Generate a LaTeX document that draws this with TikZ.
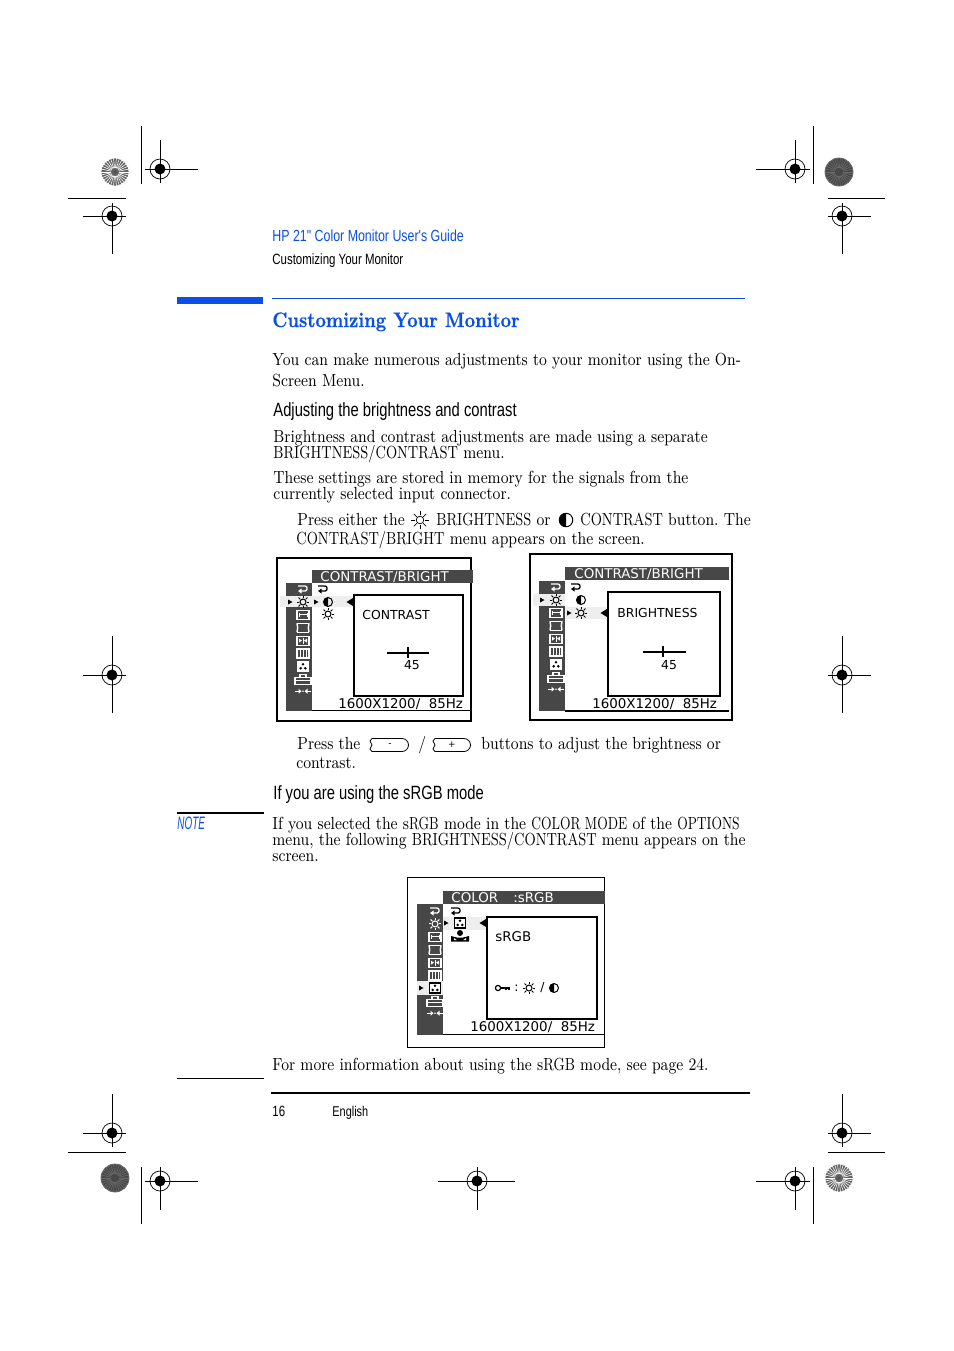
\documentclass[tikz,border=0pt]{standalone}
\usepackage{fontspec}
\usepackage{xcolor}
\setmainfont[FakeStretch=0.87]{Latin Modern Roman}
\newfontfamily\capface[FakeStretch=0.80]{Latin Modern Roman}
\newfontfamily\capnarrow[FakeStretch=0.75]{Latin Modern Roman}
\newfontfamily\titleface[Extension=.otf,FakeStretch=0.865,FakeBold=0.5]{lmroman10-bold}
\newfontfamily\headfont[FakeStretch=0.77]{Liberation Sans}
\newfontfamily\noteface[FakeStretch=0.55]{Liberation Sans}
\newfontfamily\osdfont{DejaVu Sans}
\newcommand{\capw}[1]{{\capface #1}}
\newcommand{\capn}[1]{{\capnarrow #1}}
\definecolor{hpblue}{HTML}{0B50E6}
\definecolor{osdgray}{HTML}{474747}
\definecolor{osdband}{HTML}{EEEEEE}
\usetikzlibrary{positioning}

\tikzset{
  bodytext/.style={anchor=base west,inner sep=0pt,font=\frenchspacing\fontsize{8.75}{10}\selectfont},
  headtext/.style={anchor=base west,inner sep=0pt,font=\headfont\fontsize{7.45}{10}\selectfont},
  subhead/.style={anchor=base west,inner sep=0pt,font=\headfont\fontsize{9.6}{12}\selectfont},
  osdtext/.style={anchor=base west,inner sep=0pt,font=\osdfont\fontsize{6.2}{7}\selectfont},
  osdwide/.style={osdtext,font=\osdfont\fontsize{6.7}{7}\selectfont},
  cropline/.style={line width=0.5pt},
  markline/.style={line width=0.5pt},
  sunicon/.pic={
    \draw[line width=0.5pt] (0,0) circle (3);
    \foreach \a in {0,45,...,315} \draw[line width=0.5pt] (\a:4) -- (\a:6.3);
  },
  sunthin/.pic={
    \draw[line width=0.35pt] (0,0) circle (3.8);
    \foreach \a in {0,45,...,315} \draw[line width=0.35pt] (\a:4.6) -- (\a:8.8);
  },
  backicon/.pic={
    \draw[line width=0.65pt,rounded corners=1pt] (-5,-3) -- (4,-3) -- (4,2) -- (-2,2);
    \fill (-5,2) -- (-1.5,-0.5) -- (-1.5,4.5) -- cycle;
  },
  halficon/.pic={
    \draw[line width=0.5pt] (0,0) circle (4.5);
    \fill (0,4.5) arc (90:270:4.5) -- cycle;
  },
  widthicon/.pic={
    \draw[line width=0.6pt] (-6,-4.5) rectangle (6,4.5);
    \draw[line width=0.5pt] (-4,0) -- (4,0) (-4,-2) -- (-4,2) (4,-2) -- (4,2);
  },
  recticon/.pic={
    \draw[line width=0.7pt] (-6,-4.5) -- (6,-4.5) (-6,4.5) -- (6,4.5);
    \draw[line width=0.7pt] (-6,-4.5) to[bend left=15] (-6,4.5) (6,-4.5) to[bend right=15] (6,4.5);
  },
  convicon/.pic={
    \draw[line width=0.6pt] (-6,-4.5) rectangle (6,4.5);
    \draw[line width=0.35pt] (0,-3) -- (0,3);
    \fill (-1,0) -- (-4,-2) -- (-4,2) -- cycle (1,0) -- (4,-2) -- (4,2) -- cycle;
  },
  barsicon/.pic={
    \draw[line width=0.6pt] (-6,-4.5) rectangle (6,4.5);
    \draw[line width=0.55pt] (-2.2,-4) -- (-2.2,4) (0.6,-4) -- (0.6,4) (3.2,-4) -- (3.2,4);
  },
  dotsicon/.pic={
    \draw[line width=0.6pt,fill=white] (-5.5,-5) rectangle (5.5,5);
    \fill[black] (-2.3,1.9) circle (1.4) (2.3,1.9) circle (1.4) (0,-2.2) circle (1.4);
  },
  caseicon/.pic={
    \draw[line width=0.55pt] (-8,-2) rectangle (8,5);
    \draw[line width=0.55pt] (-8,1) -- (8,1) (-3,-2) -- (-3,-4.5) -- (3,-4.5) -- (3,-2);
  },
  arrowsicon/.pic={
    \draw[line width=0.6pt] (-8,0) -- (-3,0) (8,0) -- (3,0);
    \fill (-1.5,0) -- (-4.5,-2.5) -- (-4.5,2.5) -- cycle (1.5,0) -- (4.5,-2.5) -- (4.5,2.5) -- cycle;
    \fill (0,0) circle (0.8);
  },
  personicon/.pic={
    \fill (0,-3) circle (3);
    \fill (-9,5.5) -- (-9,0) -- (-3,1.5) -- (3,1.5) -- (9,0) -- (9,5.5) -- cycle;
    \fill[white] (-6,4.2) -- (-6,2) -- (-3,4.2) -- cycle (6,4.2) -- (6,2) -- (3,4.2) -- cycle;
  },
  keyicon/.pic={
    \draw[line width=0.6pt] (-5,0) circle (2.6);
    \draw[line width=0.6pt] (-2.4,0) -- (7,0) (3,0) -- (3,2) (6,0) -- (6,2);
  },
  menucol/.pic={
    \pic[white] at (0,0) {backicon};
    \pic[white] at (0,12.9) {sunicon};
    \pic[white] at (0,25.8) {widthicon};
    \pic[white] at (0,38.7) {recticon};
    \pic[white] at (0,51.6) {convicon};
    \pic[white] at (0,64.5) {barsicon};
    \pic[white] at (0,77.4) {dotsicon};
    \pic[white] at (0,90.3) {caseicon};
    \pic[white] at (0,102.2) {arrowsicon};
  },
  burst/.pic={
    \fill[pic actions] (0,0) circle (14);
    \foreach \a in {0,12,...,348} \draw[pic actions,line width=0.3pt] (\a:4) -- (\a:14);
    \fill[black!70] (0,0) circle (1.5);
  },
  regmark/.pic={
    \draw[line width=0.35pt] (0,0) circle (10);
    \fill (0,0) circle (5.5);
    \draw[white,line width=0.3pt] (-5.5,0) -- (5.5,0) (0,-5.5) -- (0,5.5);
  }
}
% cross hair with arm lengths left, right, up, down
\newcommand{\regcross}[6]{
  \pic at (#1,#2) {regmark};
  \draw[markline] (#1-#3,#2) -- (#1+#4,#2) (#1,#2-#5) -- (#1,#2+#6);
}
\newcommand{\arrowright}[2]{\fill (#1-2,#2-2.5) -- (#1+2.5,#2) -- (#1-2,#2+2.5) -- cycle;}
\newcommand{\arrowleft}[2]{\fill (#1+3,#2-4) -- (#1-3.5,#2) -- (#1+3,#2+4) -- cycle;}

\begin{document}
\begin{tikzpicture}[x=0.5pt,y=-0.5pt]
\useasboundingbox (0,0) rectangle (954,1351);
\fill[white] (0,0) rectangle (954,1351);

% printer marks
\regcross{160}{169}{15}{38}{29}{14}
\regcross{112}{216}{29}{14}{13}{38}
\regcross{795}{169}{39}{15}{29}{14}
\regcross{842}{216}{14}{29}{13}{38}
\regcross{112}{675}{29}{14}{39}{38}
\regcross{842}{675}{14}{29}{39}{38}
\regcross{112}{1133}{29}{14}{39}{14}
\regcross{842}{1133}{14}{29}{39}{14}
\regcross{160}{1181}{15}{38}{14}{29}
\regcross{477}{1181}{39}{38}{14}{29}
\regcross{795}{1181}{39}{15}{14}{29}
\draw[cropline] (141,126) -- (141,184) (68,198) -- (126,198);
\draw[cropline] (813,126) -- (813,184) (828,198) -- (885,198);
\draw[cropline] (141,1167) -- (141,1224) (68,1152) -- (126,1152);
\draw[cropline] (813,1167) -- (813,1224) (828,1152) -- (885,1152);
\pic[fill=black!62,draw=white] at (115,172) {burst};
\pic[fill=black!72,draw=black!58] at (839,172) {burst};
\pic[fill=black!72,draw=black!58] at (115,1178) {burst};
\pic[fill=black!62,draw=white] at (839,1178) {burst};

% page head
\node[headtext,text=hpblue,font=\headfont\fontsize{8.05}{10}\selectfont] (guide) at (272,241) {HP 21" Color Monitor User's Guide};
\node[headtext] (chapter) at (272,264) {Customizing Your Monitor};
\fill[hpblue] (177,297) rectangle (263,304);
\draw[hpblue,line width=0.5pt] (272,298) -- (745,298);
\node[bodytext,text=hpblue,font=\titleface\fontsize{10.5}{12}\selectfont] (title) at (272,327) {Customizing Your Monitor};

% text
\node[bodytext] (l1) at (272,365) {You can make numerous adjustments to your monitor using the On-};
\node[bodytext] (l2) at (272,386) {Screen Menu.};
\node[subhead] (h1) at (273,416) {Adjusting the brightness and contrast};
\node[bodytext] (l3) at (273,442) {Brightness and contrast adjustments are made using a separate};
\node[bodytext] (l4) at (273,458) {\capw{BRIGHTNESS/CONTRAST} menu.};
\node[bodytext] (l5) at (273,483) {These settings are stored in memory for the signals from the};
\node[bodytext] (l6) at (273,499) {currently selected input connector.};
\node[bodytext] (l7) at (297,525) {Press either the};
\pic at (420,520) {sunthin};
\node[bodytext] (l7b) at (436,525) {\capw{BRIGHTNESS} or};
\pic[scale=1.5] at (566,520) {halficon};
\node[bodytext] (l7c) at (580,525) {\capw{CONTRAST} button. The};
\node[bodytext] (l8) at (296,544) {\capw{CONTRAST/BRIGHT} menu appears on the screen.};

% first screen
\draw[line width=1pt] (277,558) rectangle (471,721);
\fill[osdgray] (312,570) rectangle (473,583);
\fill[osdgray] (286,583) rectangle (312,711);
\pic at (303,589) {menucol};
\fill[osdband] (280,596) rectangle (354,607);
\pic at (303,602) {sunicon};
\draw[line width=0.5pt] (312,710) -- (471,710);
\node[osdwide,text=white] (s1title) at (320,581) {CONTRAST/BRIGHT};
\pic at (323,589) {backicon};
\pic at (328,602) {halficon};
\pic at (328,614) {sunicon};
\arrowright{290}{602}
\arrowright{316}{602}
\arrowleft{350}{602}
\draw[line width=0.6pt,fill=white] (354,595) rectangle (463,696);
\node[osdtext] (s1name) at (362,619) {CONTRAST};
\draw[line width=0.7pt] (387,653) -- (429,653) (408,647) -- (408,658);
\node[osdtext,anchor=base] (s1val) at (412,669) {45};
\node[osdwide] (s1res) at (338,708) {1600X1200/\ \ 85Hz};

% second screen
\draw[line width=1pt] (530,554) rectangle (732,720);
\fill[osdgray] (565,567) rectangle (729,580);
\fill[osdgray] (539,581) rectangle (565,711);
\pic at (556,587) {menucol};
\fill[osdband] (533,594) rectangle (565,606);
\fill[osdband] (565,607) rectangle (608,619);
\pic at (556,600) {sunicon};
\draw[line width=1pt] (565,711) -- (729,711);
\node[osdwide,text=white] (s2title) at (574,578) {CONTRAST/BRIGHT};
\pic at (576,587) {backicon};
\pic at (581,600) {halficon};
\pic at (581,613) {sunicon};
\arrowright{542}{600}
\arrowright{569}{613}
\arrowleft{604}{613}
\draw[line width=0.6pt,fill=white] (608,592) rectangle (720,696);
\node[osdtext] (s2name) at (617,617) {BRIGHTNESS};
\draw[line width=0.7pt] (643,652) -- (686,652) (663,646) -- (663,657);
\node[osdtext,anchor=base] (s2val) at (669,669) {45};
\node[osdwide] (s2res) at (592,708) {1600X1200/\ \ 85Hz};

% text between the screens
\node[bodytext] (l9) at (297,749) {Press the};
\draw[line width=0.4pt] (372,738.5) -- (402,738.5) arc (-90:90:6.5) -- (372,751.5) -- (370,749) -- (372,745) -- (370,741) -- cycle;
\node[osdtext,anchor=center,font=\osdfont\fontsize{4.5}{5}\selectfont] (minus) at (390,745) {-};
\node[bodytext] (slash) at (418,749) {/};
\draw[line width=0.4pt] (435,738.5) -- (464,738.5) arc (-90:90:6.5) -- (435,751.5) -- (433,749) -- (435,745) -- (433,741) -- cycle;
\node[osdtext,anchor=center,font=\osdfont\fontsize{4.5}{5}\selectfont] (plus) at (452,745) {+};
\node[bodytext] (l9b) at (481,749) {buttons to adjust the brightness or};
\node[bodytext] (l10) at (296,768) {contrast.};
\node[subhead] (h2) at (273,799) {If you are using the sRGB mode};

% note
\draw[line width=0.7pt] (177,813) -- (264,813);
\node[headtext,text=hpblue,font=\noteface\itshape\fontsize{9}{10}\selectfont] (note) at (177,829) {NOTE};
\node[bodytext] (l11) at (272,829) {If you selected the s\capn{RGB} mode in the \capn{COLOR MODE} of the \capn{OPTIONS}};
\node[bodytext] (l12) at (272,845) {menu, the following \capw{BRIGHTNESS/CONTRAST} menu appears on the};
\node[bodytext] (l13) at (272,861) {screen.};

% third screen
\draw[line width=0.5pt] (407,877) rectangle (604,1047);
\fill[osdgray] (443,891) rectangle (605,904);
\fill[osdgray] (417,904) rectangle (443,1035);
\pic at (435,911) {menucol};
\fill[osdband] (443,917) rectangle (487,930);
\fill[osdband] (417,981) rectangle (443,995);
\pic at (435,988) {dotsicon};
\draw[line width=0.5pt] (443,1034) -- (604,1034);
\node[osdwide,text=white] (s3title) at (451,902) {COLOR};
\node[osdwide,text=white] (s3mode) at (513,902) {:sRGB};
\pic at (456,911) {backicon};
\pic at (460,923) {dotsicon};
\pic at (460,936) {personicon};
\arrowright{421}{988}
\arrowright{446}{923}
\arrowleft{483}{923}
\draw[line width=0.6pt,fill=white] (487,917) rectangle (597,1019);
\draw[line width=0.9pt] (597,917) -- (597,1019) -- (487,1019);
\node[osdwide] (s3name) at (495,941) {sRGB};
\pic at (503,988) {keyicon};
\node[osdtext] (s3colon) at (514,991) {:};
\pic at (529,988) {sunicon};
\node[osdtext] (s3slash) at (540,991) {/};
\pic at (554,988) {halficon};
\node[osdwide] (s3res) at (470,1031) {1600X1200/\ \ 85Hz};

% page foot
\node[bodytext] (l14) at (272,1070) {For more information about using the s\capw{RGB} mode, see page 24.};
\draw[line width=0.4pt] (177,1078) -- (264,1078);
\draw[line width=1pt] (271,1093) -- (750,1093);
\node[headtext] (page) at (272,1116) {16};
\node[headtext,font=\headfont\fontsize{7.1}{10}\selectfont] (lang) at (332,1116) {English};
\end{tikzpicture}
\end{document}
